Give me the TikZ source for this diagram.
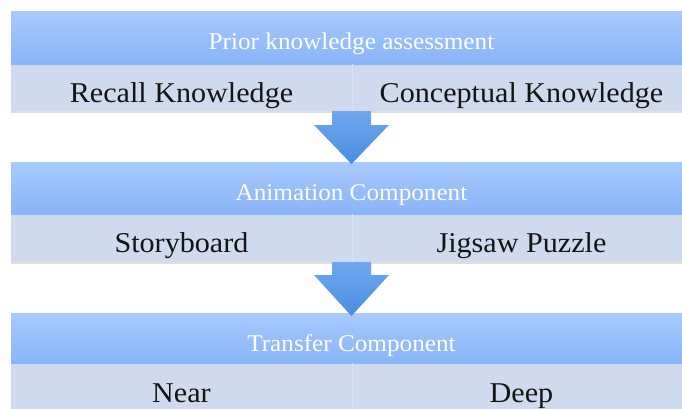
\documentclass[tikz,border=0pt]{standalone}
\usepackage{fontspec}
\setmainfont{Liberation Serif}[FakeStretch=1.05]
\usetikzlibrary{shadows}
\definecolor{headtop}{RGB}{168,202,254}
\definecolor{headbot}{RGB}{137,180,248}
\definecolor{cellbg}{RGB}{208,218,239}
\definecolor{celldiv}{RGB}{216,225,243}
\definecolor{arrtop}{RGB}{112,168,238}
\definecolor{arrbot}{RGB}{74,140,226}
\definecolor{celltext}{RGB}{20,20,20}
\begin{document}
\begin{tikzpicture}[x=1pt,y=-1pt,
  headrow/.style={rectangle, inner sep=0pt, minimum width=681pt,
    top color=headtop, bottom color=headbot, draw=none},
  cellrow/.style={rectangle, inner sep=0pt, minimum width=681pt,
    fill=cellbg, draw=none,
    drop shadow={shadow xshift=0pt, shadow yshift=-1.5pt, opacity=0.25}},
  headtext/.style={anchor=base, inner sep=0pt, text=white,
    font=\fontsize{24}{28}\selectfont},
  celltxt/.style={anchor=base, inner sep=0pt, text=celltext,
    font=\fontsize{28.7}{33}\selectfont},
  flowarrow/.style={top color=arrtop, bottom color=arrbot, draw=none}
]
\useasboundingbox (0,0) rectangle (682,408);
\clip (0,0) rectangle (682,408);
\fill[white] (0,0) rectangle (682,408);

% block 1: prior knowledge
\node[cellrow, minimum height=47pt] (c1) at (351.5,87.5) {};
\node[headrow, minimum height=53pt] (h1) at (351.5,37.5) {};
% block 2: animation
\node[cellrow, minimum height=48pt] (c2) at (351.5,238) {};
\node[headrow, minimum height=52pt] (h2) at (351.5,188) {};
% block 3: transfer
\node[cellrow, minimum height=50pt] (c3) at (351.5,388) {};
\node[headrow, minimum height=50pt] (h3) at (351.5,338) {};

% column dividers in the lower rows
\draw[celldiv, line width=0.8pt] (352,64) -- (352,111);
\draw[celldiv, line width=0.8pt] (352,214) -- (352,262);
\draw[celldiv, line width=0.8pt] (352,363) -- (352,413);

% header texts
\node[headtext] (t1) at (351.5,49) {Prior knowledge assessment};
\node[headtext] (t2) at (351.5,200) {Animation Component};
\node[headtext] (t3) at (351.5,351) {Transfer Component};

% cell texts
\node[celltxt] (a1) at (181.5,102) {Recall Knowledge};
\node[celltxt] (b1) at (521.5,102) {Conceptual Knowledge};
\node[celltxt] (a2) at (181.5,252) {Storyboard};
\node[celltxt] (b2) at (521.5,252) {Jigsaw Puzzle};
\node[celltxt] (a3) at (181.5,402) {Near};
\node[celltxt] (b3) at (521.5,402) {Deep};

% block arrows between the blocks
\path[flowarrow] (332,111) -- (371,111) -- (371,125) -- (389,125)
  -- (351.5,164) -- (314,125) -- (332,125) -- cycle;
\path[flowarrow] (332,262) -- (371,262) -- (371,275) -- (389,275)
  -- (351.5,316) -- (314,275) -- (332,275) -- cycle;
\end{tikzpicture}
\end{document}
